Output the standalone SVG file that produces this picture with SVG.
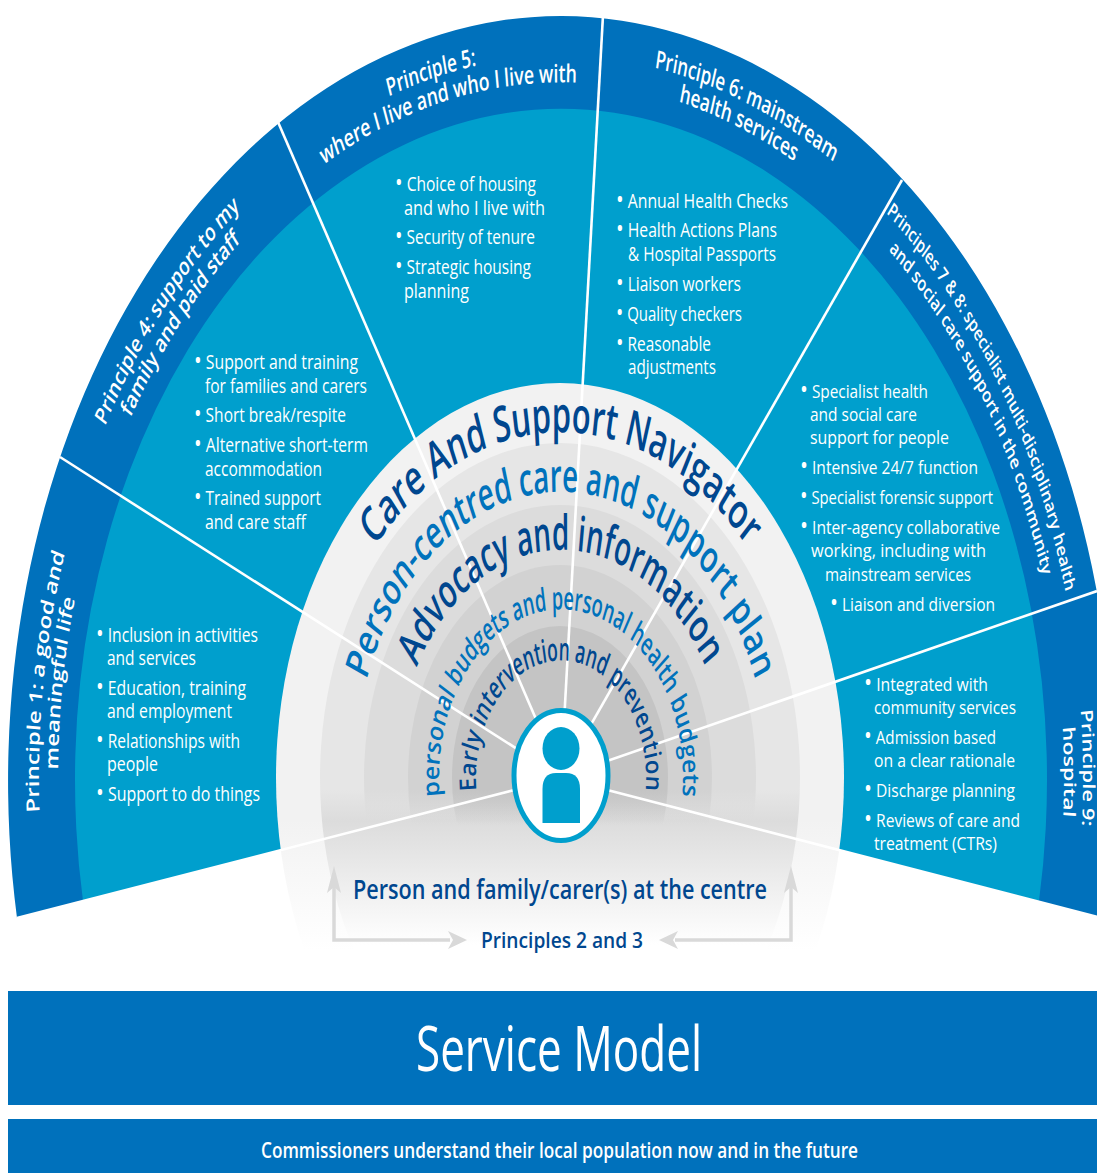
<svg xmlns="http://www.w3.org/2000/svg" width="1097" height="1173" viewBox="0 0 1097 1173">
<style>
text{font-family:"Open Sans","Noto Sans","Liberation Sans",sans-serif}
.dark{fill:#0071bc}.teal{fill:#009fcd}
.b{font-size:20px;fill:#fff}
.br{font-size:19px;fill:#fff}
.d{font-size:26px}
.band{font-size:18px;fill:#fff;font-weight:600}
.band2{font-size:15px;fill:#fff;font-weight:600}
.side{font-size:18px;fill:#fff;font-weight:600}
.side9{font-size:16.5px;fill:#fff;font-weight:600}
.spoke{stroke:#fff;stroke-width:2.600;fill:none}
.arrow{stroke:#d9d9d9;stroke-width:3.5;fill:none}
.head{fill:#d9d9d9}
.navy{fill:#00478f;font-weight:600}
.mid{fill:#0072bc;font-weight:600}
</style>
<defs>
<linearGradient id="g1" gradientUnits="userSpaceOnUse" x1="0" y1="820" x2="0" y2="950"><stop offset="0" stop-color="#f2f2f2"/><stop offset="1" stop-color="#fff"/></linearGradient>
<linearGradient id="g2" gradientUnits="userSpaceOnUse" x1="0" y1="790" x2="0" y2="945"><stop offset="0" stop-color="#e6e6e6"/><stop offset="0.2" stop-color="#dcdcdc"/><stop offset="1" stop-color="#fff"/></linearGradient>
<linearGradient id="g3" gradientUnits="userSpaceOnUse" x1="0" y1="790" x2="0" y2="825"><stop offset="0" stop-color="#dcdcdc"/><stop offset="1" stop-color="#dcdcdc" stop-opacity="0"/></linearGradient>
<linearGradient id="g4" gradientUnits="userSpaceOnUse" x1="0" y1="790" x2="0" y2="825"><stop offset="0" stop-color="#d2d2d2"/><stop offset="1" stop-color="#d2d2d2" stop-opacity="0"/></linearGradient>
<linearGradient id="g5" gradientUnits="userSpaceOnUse" x1="0" y1="790" x2="0" y2="825"><stop offset="0" stop-color="#c4c4c4"/><stop offset="1" stop-color="#c4c4c4" stop-opacity="0"/></linearGradient>
<path id="r85" d="M-73.6,42.5A85,85 0 1 1 73.6,42.5"/>
<path id="r122" d="M-105.7,61A122,122 0 1 1 105.7,61"/>
<path id="r165" d="M-142.9,82.5A165,165 0 1 1 142.9,82.5"/>
<path id="r207" d="M-179.3,103.5A207,207 0 1 1 179.3,103.5"/>
<path id="r250" d="M-216.5,125A250,250 0 1 1 216.5,125"/>
<path id="r503" d="M-435.6,251.5A503,503 0 1 1 435.6,251.5"/>
<path id="r522" d="M-452,261A522,522 0 1 1 452,261"/>
</defs>
<g id="fan">
<path class="dark" d="M561,778L17,918A553,765 0 1 1 1105,919Z"/>
<path class="teal" d="M561,778L83,901A486,671 0 1 1 1039,901Z"/>
</g>
<g id="rings">
<ellipse cx="560" cy="778" rx="284" ry="395" fill="url(#g1)"/>
<ellipse cx="560" cy="778" rx="240" ry="335" fill="url(#g2)"/>
<ellipse cx="560" cy="778" rx="196" ry="273" fill="url(#g3)"/>
<ellipse cx="560" cy="778" rx="152" ry="213" fill="url(#g4)"/>
<ellipse cx="560" cy="778" rx="108" ry="152" fill="url(#g5)"/>
</g>
<g id="connectors">
<path class="spoke" d="M561,777L60,457"/>
<path class="spoke" d="M561,777L278,122"/>
<path class="spoke" d="M561,777L603,15"/>
<path class="spoke" d="M561,777L902,180"/>
<path class="spoke" d="M561,777L1097,591"/>
<path class="spoke" d="M561,778L17,918"/>
<path class="spoke" d="M561,778L1105,919"/>
<path class="arrow" d="M334,885V940H450"/>
<path class="arrow" d="M791,885V940H675"/>
<polygon class="head" points="334,866 341,893 334,887 327,893"/>
<polygon class="head" points="791,866 798,893 791,887 784,893"/>
<polygon class="head" points="467,940 448,931 453,940 448,949"/>
<polygon class="head" points="659,940 678,931 673,940 678,949"/>
</g>
<g id="ring-labels">
<text class="navy" font-size="36" transform="translate(561,778) scale(1,1.383)"><textPath href="#r250" startOffset="50%" text-anchor="middle" textLength="420" lengthAdjust="spacingAndGlyphs">Care And Support Navigator</textPath></text>
<text class="mid" font-size="33" transform="translate(561,778) scale(1,1.383)"><textPath href="#r207" startOffset="50%" text-anchor="middle" textLength="506" lengthAdjust="spacingAndGlyphs">Person-centred care and support plan</textPath></text>
<text class="navy" font-size="35" transform="translate(561,778) scale(1,1.383)"><textPath href="#r165" startOffset="50%" text-anchor="middle" textLength="351" lengthAdjust="spacingAndGlyphs">Advocacy and information</textPath></text>
<text class="mid" font-size="23" transform="translate(561,778) scale(1,1.383)"><textPath href="#r122" startOffset="50%" text-anchor="middle" textLength="409" lengthAdjust="spacingAndGlyphs">personal budgets and personal health budgets</textPath></text>
<text class="navy" font-size="23" transform="translate(561,778) scale(1,1.383)"><textPath href="#r85" startOffset="50%" text-anchor="middle" textLength="285" lengthAdjust="spacingAndGlyphs">Early intervention and prevention</textPath></text>
</g>
<g id="person">
<ellipse cx="561" cy="775.5" rx="47" ry="65" fill="#fff" stroke="#009fcd" stroke-width="5"/>
<ellipse class="teal" cx="561" cy="748.5" rx="18.500" ry="21.5"/>
<path class="teal" d="M542.500,823V789Q542.500,773 556,773H566Q580,773 580,789V823Z"/>
</g>
<g id="principle-1">
<text class="side" transform="translate(561,778) scale(1,1.383) rotate(-82.3)"><textPath href="#r522" startOffset="50%" text-anchor="middle" textLength="190" lengthAdjust="spacingAndGlyphs">Principle 1: a good and</textPath></text>
<text class="side" transform="translate(561,778) scale(1,1.383) rotate(-82.2)"><textPath href="#r503" startOffset="50%" text-anchor="middle" textLength="125" lengthAdjust="spacingAndGlyphs">meaningful life</textPath></text>
<text class="b" x="96" y="642" textLength="162" lengthAdjust="spacingAndGlyphs"><tspan class="d">•</tspan> Inclusion in activities</text>
<text class="b" x="107" y="665" textLength="89" lengthAdjust="spacingAndGlyphs">and services</text>
<text class="b" x="96" y="695" textLength="150" lengthAdjust="spacingAndGlyphs"><tspan class="d">•</tspan> Education, training</text>
<text class="b" x="107" y="718" textLength="125" lengthAdjust="spacingAndGlyphs">and employment</text>
<text class="b" x="96" y="748" textLength="144" lengthAdjust="spacingAndGlyphs"><tspan class="d">•</tspan> Relationships with</text>
<text class="b" x="107" y="771" textLength="51" lengthAdjust="spacingAndGlyphs">people</text>
<text class="b" x="96" y="801" textLength="164" lengthAdjust="spacingAndGlyphs"><tspan class="d">•</tspan> Support to do things</text>
</g>
<g id="principle-4">
<text class="band" transform="translate(561,778) scale(1,1.383) rotate(-49.4)"><textPath href="#r522" startOffset="50%" text-anchor="middle" textLength="209" lengthAdjust="spacingAndGlyphs">Principle 4: support to my</textPath></text>
<text class="band" transform="translate(561,778) scale(1,1.383) rotate(-49.2)"><textPath href="#r503" startOffset="50%" text-anchor="middle" textLength="169" lengthAdjust="spacingAndGlyphs">family and paid staff</textPath></text>
<text class="b" x="194" y="369" textLength="164" lengthAdjust="spacingAndGlyphs"><tspan class="d">•</tspan> Support and training</text>
<text class="b" x="205" y="393" textLength="162" lengthAdjust="spacingAndGlyphs">for families and carers</text>
<text class="b" x="194" y="422" textLength="152" lengthAdjust="spacingAndGlyphs"><tspan class="d">•</tspan> Short break/respite</text>
<text class="b" x="194" y="452" textLength="174" lengthAdjust="spacingAndGlyphs"><tspan class="d">•</tspan> Alternative short-term</text>
<text class="b" x="205" y="476" textLength="117" lengthAdjust="spacingAndGlyphs">accommodation</text>
<text class="b" x="194" y="505" textLength="127" lengthAdjust="spacingAndGlyphs"><tspan class="d">•</tspan> Trained support</text>
<text class="b" x="205" y="529" textLength="101" lengthAdjust="spacingAndGlyphs">and care staff</text>
</g>
<g id="principle-5">
<text class="band" transform="translate(561,778) scale(1,1.383) rotate(-14.3)"><textPath href="#r522" startOffset="50%" text-anchor="middle" textLength="91" lengthAdjust="spacingAndGlyphs">Principle 5:</textPath></text>
<text class="band" transform="translate(561,778) scale(1,1.383) rotate(-13.2)"><textPath href="#r503" startOffset="50%" text-anchor="middle" textLength="263" lengthAdjust="spacingAndGlyphs">where I live and who I live with</textPath></text>
<text class="b" x="395" y="191" textLength="141" lengthAdjust="spacingAndGlyphs"><tspan class="d">•</tspan> Choice of housing</text>
<text class="b" x="404" y="215" textLength="141" lengthAdjust="spacingAndGlyphs">and who I live with</text>
<text class="b" x="395" y="244" textLength="140" lengthAdjust="spacingAndGlyphs"><tspan class="d">•</tspan> Security of tenure</text>
<text class="b" x="395" y="274" textLength="136" lengthAdjust="spacingAndGlyphs"><tspan class="d">•</tspan> Strategic housing</text>
<text class="b" x="404" y="298" textLength="65" lengthAdjust="spacingAndGlyphs">planning</text>
</g>
<g id="principle-6">
<text class="band" transform="translate(561,778) scale(1,1.383) rotate(20.9)"><textPath href="#r522" startOffset="50%" text-anchor="middle" textLength="193" lengthAdjust="spacingAndGlyphs">Principle 6: mainstream</textPath></text>
<text class="band" transform="translate(561,778) scale(1,1.383) rotate(20.6)"><textPath href="#r503" startOffset="50%" text-anchor="middle" textLength="124" lengthAdjust="spacingAndGlyphs">health services</textPath></text>
<text class="b" x="616" y="208" textLength="172" lengthAdjust="spacingAndGlyphs"><tspan class="d">•</tspan> Annual Health Checks</text>
<text class="b" x="616" y="237" textLength="161" lengthAdjust="spacingAndGlyphs"><tspan class="d">•</tspan> Health Actions Plans</text>
<text class="b" x="628" y="261" textLength="148" lengthAdjust="spacingAndGlyphs">&amp; Hospital Passports</text>
<text class="b" x="616" y="291" textLength="125" lengthAdjust="spacingAndGlyphs"><tspan class="d">•</tspan> Liaison workers</text>
<text class="b" x="616" y="321" textLength="126" lengthAdjust="spacingAndGlyphs"><tspan class="d">•</tspan> Quality checkers</text>
<text class="b" x="616" y="351" textLength="95" lengthAdjust="spacingAndGlyphs"><tspan class="d">•</tspan> Reasonable</text>
<text class="b" x="628" y="374" textLength="88" lengthAdjust="spacingAndGlyphs">adjustments</text>
</g>
<g id="principles-7-8">
<text class="band2" transform="translate(561,778) scale(1,1.383) rotate(56.8)"><textPath href="#r522" startOffset="50%" text-anchor="middle" textLength="333" lengthAdjust="spacingAndGlyphs">Principles 7 &amp; 8: specialist multi-disciplinary health</textPath></text>
<text class="band2" transform="translate(561,778) scale(1,1.383) rotate(56.9)"><textPath href="#r503" startOffset="50%" text-anchor="middle" textLength="285" lengthAdjust="spacingAndGlyphs">and social care support in the community</textPath></text>
<text class="br" x="800" y="398" textLength="128" lengthAdjust="spacingAndGlyphs"><tspan class="d">•</tspan> Specialist health</text>
<text class="br" x="810" y="421" textLength="107" lengthAdjust="spacingAndGlyphs">and social care</text>
<text class="br" x="810" y="444" textLength="139" lengthAdjust="spacingAndGlyphs">support for people</text>
<text class="br" x="800" y="474" textLength="178" lengthAdjust="spacingAndGlyphs"><tspan class="d">•</tspan> Intensive 24/7 function</text>
<text class="br" x="800" y="504" textLength="193" lengthAdjust="spacingAndGlyphs"><tspan class="d">•</tspan> Specialist forensic support</text>
<text class="br" x="800" y="534" textLength="200" lengthAdjust="spacingAndGlyphs"><tspan class="d">•</tspan> Inter-agency collaborative</text>
<text class="br" x="811" y="557" textLength="175" lengthAdjust="spacingAndGlyphs">working, including with</text>
<text class="br" x="825" y="581" textLength="146" lengthAdjust="spacingAndGlyphs">mainstream services</text>
<text class="br" x="830" y="611" textLength="165" lengthAdjust="spacingAndGlyphs"><tspan class="d">•</tspan> Liaison and diversion</text>
</g>
<g id="principle-9">
<text class="side9" transform="translate(561,778) scale(1,1.383) rotate(89.2)"><textPath href="#r522" startOffset="50%" text-anchor="middle" textLength="84" lengthAdjust="spacingAndGlyphs">Principle 9:</textPath></text>
<text class="side9" transform="translate(561,778) scale(1,1.383) rotate(89.5)"><textPath href="#r503" startOffset="50%" text-anchor="middle" textLength="65" lengthAdjust="spacingAndGlyphs">hospital</textPath></text>
<text class="br" x="864" y="691" textLength="124" lengthAdjust="spacingAndGlyphs"><tspan class="d">•</tspan> Integrated with</text>
<text class="br" x="874" y="714" textLength="142" lengthAdjust="spacingAndGlyphs">community services</text>
<text class="br" x="864" y="744" textLength="132" lengthAdjust="spacingAndGlyphs"><tspan class="d">•</tspan> Admission based</text>
<text class="br" x="874" y="767" textLength="141" lengthAdjust="spacingAndGlyphs">on a clear rationale</text>
<text class="br" x="864" y="797" textLength="151" lengthAdjust="spacingAndGlyphs"><tspan class="d">•</tspan> Discharge planning</text>
<text class="br" x="864" y="827" textLength="156" lengthAdjust="spacingAndGlyphs"><tspan class="d">•</tspan> Reviews of care and</text>
<text class="br" x="874" y="850" textLength="123" lengthAdjust="spacingAndGlyphs">treatment (CTRs)</text>
</g>
<g id="centre-labels">
<text x="353" y="899" font-size="27" font-weight="600" fill="#00478f" textLength="414" lengthAdjust="spacingAndGlyphs">Person and family/carer(s) at the centre</text>
<text x="481" y="948" font-size="22" font-weight="600" fill="#00478f" textLength="162" lengthAdjust="spacingAndGlyphs">Principles 2 and 3</text>
</g>
<g id="service-model">
<rect class="dark" x="8" y="991" width="1089" height="114"/>
<text x="416" y="1071" font-size="62" fill="#fff" textLength="286" lengthAdjust="spacingAndGlyphs">Service Model</text>
</g>
<g id="commissioners">
<rect class="dark" x="8" y="1119" width="1089" height="54"/>
<text x="261" y="1158" font-size="22" font-weight="600" fill="#fff" textLength="597" lengthAdjust="spacingAndGlyphs">Commissioners understand their local population now and in the future</text>
</g>
</svg>
